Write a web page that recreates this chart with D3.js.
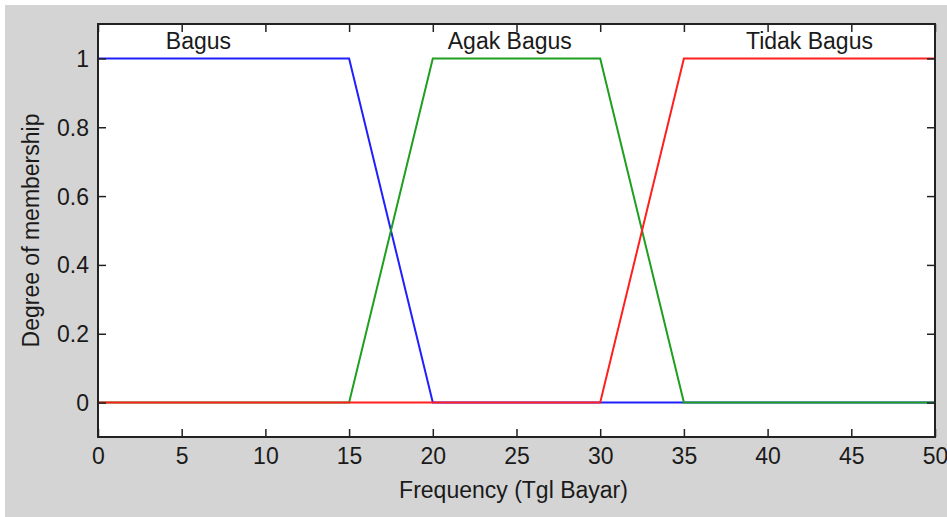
<!DOCTYPE html>
<html>
<head>
<meta charset="utf-8">
<script src="https://cdn.jsdelivr.net/npm/d3@7/dist/d3.min.js"></script>
<style>
  html, body { margin: 0; padding: 0; background: #ffffff; }
  svg { display: block; }
  text { font-family: "Liberation Sans", Arial, sans-serif; fill: #1a1a1a; }
</style>
</head>
<body>
<svg id="chart" width="947" height="517"></svg>
<script>
// Membership functions of the input "Frequency (Tgl Bayar)"
const xTicks = [0, 5, 10, 15, 20, 25, 30, 35, 40, 45, 50];
const yTicks = [0, 0.2, 0.4, 0.6, 0.8, 1];
const yTickLabels = ["0", "0.2", "0.4", "0.6", "0.8", "1"];

const mfNames = ["Bagus", "Agak Bagus", "Tidak Bagus"];
// break points (x, membership) of each trapezoid
const bagusX = [0, 15, 20, 50];
const bagusY = [1, 1, 0, 0];
const agakX = [0, 15, 20, 30, 35, 50];
const agakY = [0, 0, 1, 1, 0, 0];
const tidakX = [0, 30, 35, 50];
const tidakY = [0, 0, 1, 1];
// label anchor of each function (x in data units, y = 1.05)
const labelX = [6, 24.6, 42.5];
const labelY = 1.05;

const xLabel = "Frequency (Tgl Bayar)";
const yLabel = "Degree of membership";

const W = 947, H = 517;
const FS = 23;
const m = { left: 98, right: 947 - 935, top: 24, bottom: 517 - 437 };
const svg = d3.select("#chart");

// figure background
svg.append("rect").attr("width", W).attr("height", H).attr("fill", "#ffffff");
svg.append("rect").attr("x", 5).attr("y", 5).attr("width", W - 5).attr("height", H - 5).attr("fill", "#d4d4d4");

const x = d3.scaleLinear().domain([0, 50]).range([m.left, W - m.right]);
const y = d3.scaleLinear().domain([-0.1, 1.1]).range([H - m.bottom, m.top]);

// axes area
svg.append("rect")
  .attr("x", x(0)).attr("y", y(1.1))
  .attr("width", x(50) - x(0)).attr("height", y(-0.1) - y(1.1))
  .attr("fill", "#ffffff");

const series = [
  { name: mfNames[0], xs: bagusX, ys: bagusY, color: "#2020ff" },
  { name: mfNames[1], xs: agakX, ys: agakY, color: "#1f9f1f" },
  { name: mfNames[2], xs: tidakX, ys: tidakY, color: "#ff1f1f" }
];

const line = d3.line().x(d => x(d[0])).y(d => y(d[1]));
series.forEach(s => {
  svg.append("path")
    .datum(s.xs.map((v, i) => [v, s.ys[i]]))
    .attr("d", line)
    .attr("fill", "none")
    .attr("stroke", s.color)
    .attr("stroke-width", 2);
});

// function names
mfNames.forEach((n, i) => {
  svg.append("text")
    .attr("x", x(labelX[i])).attr("y", y(labelY))
    .attr("text-anchor", "middle")
    .attr("dominant-baseline", "central")
    .attr("font-size", FS)
    .text(n);
});

const tickLen = 8;
const axisColor = "#222222";

// bottom axis with labels, top axis ticks only
const axBottom = svg.append("g").attr("transform", `translate(0,${y(-0.1)})`)
  .call(d3.axisBottom(x).tickValues(xTicks).tickSizeInner(-tickLen).tickSizeOuter(0));
const axTop = svg.append("g").attr("transform", `translate(0,${y(1.1)})`)
  .call(d3.axisTop(x).tickValues(xTicks).tickSizeInner(-tickLen).tickSizeOuter(0).tickFormat(""));
const axLeft = svg.append("g").attr("transform", `translate(${x(0)},0)`)
  .call(d3.axisLeft(y).tickValues(yTicks).tickSizeInner(-tickLen).tickSizeOuter(0)
    .tickFormat((d, i) => yTickLabels[i]));
const axRight = svg.append("g").attr("transform", `translate(${x(50)},0)`)
  .call(d3.axisRight(y).tickValues(yTicks).tickSizeInner(-tickLen).tickSizeOuter(0).tickFormat(""));

[axBottom, axTop, axLeft, axRight].forEach(g => {
  g.select(".domain").remove();
  g.selectAll(".tick line").attr("stroke", axisColor).attr("stroke-width", 1.5);
  g.selectAll(".tick text").attr("font-size", FS).attr("fill", "#1a1a1a")
    .style("font-family", "'Liberation Sans', Arial, sans-serif");
});
axBottom.selectAll(".tick text").attr("dy", null).attr("y", 19).attr("dominant-baseline", "central");
axLeft.selectAll(".tick text").attr("x", -9).attr("dy", null).attr("dominant-baseline", "central");

// axes box
svg.append("rect")
  .attr("x", x(0)).attr("y", y(1.1))
  .attr("width", x(50) - x(0)).attr("height", y(-0.1) - y(1.1))
  .attr("fill", "none").attr("stroke", axisColor).attr("stroke-width", 2);

// axis titles
svg.append("text")
  .attr("x", (x(0) + x(50)) / 2 - 3).attr("y", 490)
  .attr("text-anchor", "middle").attr("dominant-baseline", "central")
  .attr("font-size", FS).text(xLabel);
svg.append("text")
  .attr("transform", `translate(31,${(y(-0.1) + y(1.1)) / 2}) rotate(-90)`)
  .attr("text-anchor", "middle").attr("dominant-baseline", "central")
  .attr("font-size", FS).text(yLabel);
</script>
</body>
</html>
